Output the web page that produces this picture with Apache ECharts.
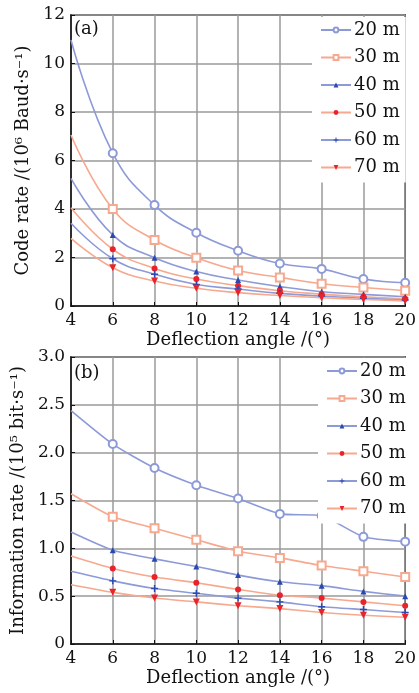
<!DOCTYPE html>
<html>
<head>
<meta charset="utf-8">
<script src="https://cdn.jsdelivr.net/npm/echarts@6/dist/echarts.min.js"></script>
<style>
  html, body { margin: 0; padding: 0; background: #fff; }
  #chart { width: 419px; height: 693px; }
</style>
</head>
<body>
<div id="chart"></div>
<script>
// deflection angle (deg)
const angles = [4, 6, 8, 10, 12, 14, 16, 18, 20];
const distances = ['20 m', '30 m', '40 m', '50 m', '60 m', '70 m'];

// (a) code rate, 10^6 Baud/s
const code20 = [10.97, 6.30, 4.16, 3.02, 2.28, 1.75, 1.53, 1.11, 0.96];
const code30 = [7.05, 4.00, 2.72, 1.99, 1.46, 1.18, 0.92, 0.76, 0.63];
const code40 = [5.26, 2.93, 1.99, 1.42, 1.07, 0.80, 0.59, 0.48, 0.38];
const code50 = [4.05, 2.34, 1.55, 1.11, 0.84, 0.63, 0.49, 0.38, 0.30];
const code60 = [3.41, 1.95, 1.31, 0.89, 0.70, 0.52, 0.41, 0.32, 0.25];
const code70 = [2.79, 1.58, 1.03, 0.73, 0.55, 0.43, 0.34, 0.27, 0.21];

// (b) information rate, 10^5 bit/s
const info20 = [2.44, 2.09, 1.84, 1.66, 1.52, 1.36, 1.34, 1.12, 1.07];
const info30 = [1.57, 1.33, 1.21, 1.09, 0.97, 0.90, 0.82, 0.76, 0.70];
const info40 = [1.17, 0.98, 0.89, 0.81, 0.72, 0.65, 0.61, 0.55, 0.50];
const info50 = [0.92, 0.79, 0.70, 0.64, 0.57, 0.51, 0.48, 0.44, 0.40];
const info60 = [0.76, 0.66, 0.58, 0.53, 0.48, 0.44, 0.39, 0.36, 0.33];
const info70 = [0.62, 0.54, 0.48, 0.44, 0.40, 0.37, 0.33, 0.30, 0.28];

const FONT = 'DejaVu Serif';
const BLUE = '#8d9ad8';
const ORANGE = '#f6a98f';
const plusPath = 'path://M4,0 L6,0 L6,4 L10,4 L10,6 L6,6 L6,10 L4,10 L4,6 L0,6 L0,4 L4,4 Z';

// marker look for each distance
const styles = [
  { line: BLUE,   color: BLUE,    symbol: 'emptyCircle', size: 8 },
  { line: ORANGE, color: ORANGE,  symbol: 'emptyRect',   size: 8 },
  { line: BLUE,   color: '#2a48b0', symbol: 'triangle',  size: 6 },
  { line: ORANGE, color: '#e8232c', symbol: 'circle',    size: 6 },
  { line: BLUE,   color: '#2a48b0', symbol: plusPath,    size: 7 },
  { line: ORANGE, color: '#e8232c', symbol: 'triangle',  size: 7, rotate: 180 }
];

function makeSeries(values, idx, gridIdx, smooth) {
  const st = styles[idx];
  return {
    name: distances[idx],
    type: 'line',
    xAxisIndex: gridIdx,
    yAxisIndex: gridIdx,
    smooth: smooth,
    symbol: st.symbol,
    symbolSize: st.size,
    symbolRotate: st.rotate || 0,
    showAllSymbol: true,
    lineStyle: { color: st.line, width: 1.6 },
    itemStyle: { color: st.color, borderWidth: 1.4 },
    data: values.map((v, i) => i === 0 ? { value: [angles[i], v], symbol: 'none' } : [angles[i], v])
  };
}

function xAxisCfg(gridIdx) {
  return {
    type: 'value', gridIndex: gridIdx, min: 4, max: 20, interval: 2,
    name: 'Deflection angle /(°)', nameLocation: 'middle', nameGap: 25,
    nameTextStyle: { fontFamily: FONT, fontSize: 18, color: '#111' },
    axisLine: { show: true, onZero: false, lineStyle: { color: '#111', width: 1.5 } },
    axisTick: { show: true, inside: true, length: 4, lineStyle: { color: '#111' } },
    axisLabel: { fontFamily: FONT, fontSize: 17, color: '#111', margin: 6 },
    splitLine: { show: true, lineStyle: { color: '#9a9a9a', width: 1.5 } }
  };
}

function yAxisCfg(gridIdx, name, max, interval, gap, fmt) {
  return {
    type: 'value', gridIndex: gridIdx, min: 0, max: max, interval: interval,
    name: name, nameLocation: 'middle', nameGap: gap, nameRotate: 90,
    nameTextStyle: { fontFamily: FONT, fontSize: 18, color: '#111' },
    axisLine: { show: true, lineStyle: { color: '#111', width: 1.5 } },
    axisTick: { show: true, inside: true, length: 4, lineStyle: { color: '#111' } },
    axisLabel: { fontFamily: FONT, fontSize: 17, color: '#111', margin: 6, formatter: fmt },
    splitLine: { show: true, lineStyle: { color: '#9a9a9a', width: 1.5 } }
  };
}

function legendCfg(gridIdx, left, top) {
  return {
    data: distances.map(d => ({ name: d })),
    orient: 'vertical', left: left, top: top,
    itemWidth: 30, itemHeight: 6, itemGap: 9.5,
    backgroundColor: '#fff', padding: [4, 6, 6, 8],
    textStyle: { fontFamily: FONT, fontSize: 18, color: '#111', padding: [0, 0, 0, -2] },
    selectedMode: false
  };
}

const chart = echarts.init(document.getElementById('chart'));
const option = {
  animation: false,
  backgroundColor: '#fff',
  grid: [
    { left: 71, right: 11, top: 15, bottom: 387, show: true, borderColor: '#111', borderWidth: 1.5 },
    { left: 71, right: 9, top: 357, bottom: 49, show: true, borderColor: '#111', borderWidth: 1.5 }
  ],
  xAxis: [xAxisCfg(0), xAxisCfg(1)],
  yAxis: [
    yAxisCfg(0, 'Code rate /(10⁶ Baud·s⁻¹)', 12, 2, 26, v => v),
    yAxisCfg(1, 'Information rate /(10⁵ bit·s⁻¹)', 3, 0.5, 42, v => v === 0 ? '0' : v.toFixed(1))
  ],
  legend: [legendCfg(0, 312, 17), legendCfg(1, 318, 358)],
  graphic: [
    { type: 'text', left: 74, top: 20, style: { text: '(a)', font: '18px "' + FONT + '"', fill: '#111' } },
    { type: 'text', left: 74, top: 364, style: { text: '(b)', font: '18px "' + FONT + '"', fill: '#111' } }
  ],
  series: [
    makeSeries(code20, 0, 0, 0.45), makeSeries(code30, 1, 0, 0.45), makeSeries(code40, 2, 0, 0.45),
    makeSeries(code50, 3, 0, 0.45), makeSeries(code60, 4, 0, 0.45), makeSeries(code70, 5, 0, 0.45),
    makeSeries(info20, 0, 1, 0.2), makeSeries(info30, 1, 1, 0.2), makeSeries(info40, 2, 1, 0.2),
    makeSeries(info50, 3, 1, 0.2), makeSeries(info60, 4, 1, 0.2), makeSeries(info70, 5, 1, 0.2)
  ]
};
chart.setOption(option);
</script>
</body>
</html>
